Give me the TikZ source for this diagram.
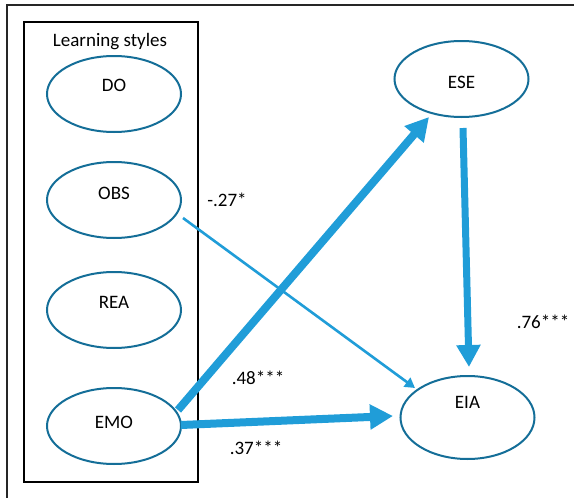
\documentclass[tikz,border=0pt]{standalone}
\usepackage{fontspec}
\setmainfont{Carlito}
\usetikzlibrary{shapes.geometric,arrows.meta,calc}
\definecolor{ellc}{RGB}{20,110,152}
\definecolor{arrc}{RGB}{32,157,216}
\tikzset{
  ell/.style={ellipse,draw=ellc,line width=2pt,fill=white,inner sep=0pt,minimum width=134pt,minimum height=76pt},
  txt/.style={font=\fontsize{19}{22}\selectfont,inner sep=0pt},
  thinarr/.style={draw=arrc,line width=2.6pt,-{Triangle[width=11pt,length=10pt]}},
  thickarr/.style={draw=arrc,line width=8pt,-{Triangle[width=24pt,length=23pt]}},
  midarr/.style={draw=arrc,line width=7pt,-{Triangle[width=23pt,length=22pt]}},
}
\begin{document}
\begin{tikzpicture}[x=1pt,y=-1pt]
\useasboundingbox (0,0) rectangle (574,498);
\draw[line width=1.5pt,black!85] (7,498) -- (7,5) -- (574,5);
\draw[line width=2pt] (24,22) rectangle (198,482);
\node[txt] (ls) at (110,42) {Learning styles};
\node[ell,label={[txt,yshift=9pt]center:DO}] (do) at (114,94) {};
\node[ell,label={[txt,yshift=7pt]center:OBS}] (obs) at (114,200) {};
\node[ell,label={[txt,yshift=8pt]center:REA}] (rea) at (114,310) {};
\node[ell,label={[txt,yshift=4pt]center:EMO}] (emo) at (114,426) {};
\node[ell,label={[txt,yshift=-3pt]center:ESE}] (ese) at (461.5,79) {};
\node[ell,minimum height=83pt,label={[txt,yshift=15pt]center:EIA}] (eia) at (467.5,417.5) {};
\draw[thinarr] ($(obs.center)+(69,18)$) -- ($(eia.center)+(-52.5,-29.5)$);
\draw[thickarr] ($(emo.center)+(64,-16)$) -- ($(ese.center)+(-32.5,38)$);
\draw[thickarr] ($(emo.center)+(67,-1)$) -- ($(eia.center)+(-74.5,-1.5)$);
\draw[midarr] ($(ese.center)+(1.5,49)$) -- ($(eia.center)+(1.5,-50.5)$);
\node[txt] (l1) at (227,200) {-.27*};
\node[txt] (l2) at (258,378) {.48***};
\node[txt] (l3) at (256,448) {.37***};
\node[txt] (l4) at (543,322) {.76***};
\end{tikzpicture}
\end{document}
